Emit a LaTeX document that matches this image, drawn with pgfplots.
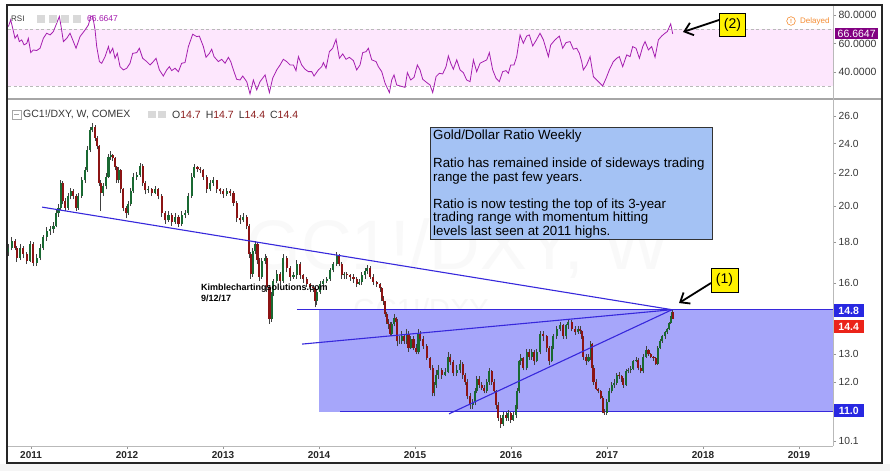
\documentclass[border=0pt]{standalone}
\usepackage{pgfplots}
\pgfplotsset{compat=1.18}
\usepackage{pgfplotstable}
\usepackage{fontspec}
\setmainfont{Liberation Sans}
\usetikzlibrary{arrows.meta}

\definecolor{rsiline}{RGB}{165,30,175}
\definecolor{rsiband}{RGB}{253,231,253}
\definecolor{trend}{RGB}{55,40,220}
\definecolor{rangefill}{RGB}{166,166,250}
\definecolor{boxfill}{RGB}{164,194,244}
\definecolor{upc}{RGB}{25,105,50}
\definecolor{dnc}{RGB}{140,20,20}
\definecolor{tagblue}{RGB}{40,40,225}
\definecolor{tagred}{RGB}{235,35,25}
\definecolor{tagpurple}{RGB}{130,0,130}
\definecolor{axisgray}{RGB}{150,150,150}
\definecolor{labelgray}{RGB}{55,55,55}
\definecolor{ohlc}{RGB}{140,30,30}
\definecolor{orangeD}{RGB}{245,140,50}

\pgfplotstableread{
t o h l c
2010.764 17.5 17.9 17.3 17.7
2010.799 17.7 18.3 17.6 18.1
2010.833 18.1 18.2 17.6 17.7
2010.851 17.7 17.8 17.0 17.2
2010.885 17.2 17.9 17.1 17.7
2010.920 17.7 17.8 17.2 17.4
2010.955 17.4 17.5 16.9 17.06
2010.990 17.06 18.1 17.0 17.9
2011.024 17.9 18.0 16.8 16.97
2011.059 16.97 17.4 16.8 17.2
2011.094 17.2 17.9 17.1 17.7
2011.128 17.7 18.4 17.6 18.27
2011.163 18.27 18.8 18.1 18.63
2011.198 18.63 18.9 18.4 18.7
2011.233 18.7 19.1 18.5 18.9
2011.260 18.9 19.8 18.8 19.6
2011.285 19.6 20.1 19.4 19.9
2011.309 19.9 21.6 19.8 21.4
2011.330 21.4 21.5 20.1 20.3
2011.354 20.3 20.5 19.7 19.9
2011.389 19.9 20.8 19.8 20.6
2011.413 20.6 21.1 20.4 20.9
2011.441 20.9 21.0 20.4 20.6
2011.469 20.6 20.7 19.7 19.9
2011.493 19.9 20.8 19.8 20.6
2011.528 20.6 21.8 20.5 21.56
2011.563 21.56 22.4 21.4 22.2
2011.587 22.2 23.8 22.1 23.54
2011.615 23.54 25.2 23.4 24.96
2011.639 24.96 25.5 24.8 25.2
2011.667 25.2 25.3 24.2 24.4
2011.691 24.4 24.5 23.6 23.8
2011.712 23.8 23.9 21.2 21.4
2011.726 21.4 21.6 19.75 20.8
2011.753 20.8 21.4 20.6 21.2
2011.781 21.2 22.0 21.0 21.8
2011.806 21.8 23.3 21.7 23.1
2011.830 23.1 23.5 22.9 23.2
2011.851 23.2 23.3 22.8 23.0
2011.875 23.0 23.1 22.2 22.4
2011.892 22.4 22.5 21.4 21.56
2011.910 21.56 22.4 21.4 22.2
2011.934 22.2 22.3 20.8 21.0
2011.962 21.0 21.1 19.7 19.9
2011.990 19.9 20.0 19.3 19.6
2012.014 19.6 20.3 19.5 20.1
2012.038 20.1 21.1 20.0 20.9
2012.066 20.9 22.0 20.8 21.8
2012.101 21.8 22.1 21.6 21.9
2012.135 21.9 22.7 21.8 22.5
2012.163 22.5 22.6 21.2 21.4
2012.188 21.4 21.5 20.7 20.94
2012.222 20.94 21.2 20.8 21.0
2012.257 21.0 21.1 20.6 20.8
2012.292 20.8 21.2 20.7 21.0
2012.326 21.0 21.1 20.4 20.6
2012.361 20.6 20.7 19.4 19.6
2012.396 19.6 19.7 19.0 19.2
2012.431 19.2 19.7 19.1 19.5
2012.465 19.5 19.6 18.9 19.1
2012.500 19.1 19.6 19.0 19.4
2012.535 19.4 19.5 18.8 19.0
2012.569 19.0 19.7 18.9 19.5
2012.604 19.5 19.8 19.3 19.6
2012.639 19.6 20.8 19.5 20.6
2012.674 20.6 22.0 20.5 21.8
2012.698 21.8 22.6 21.7 22.4
2012.733 22.4 22.5 22.1 22.3
2012.760 22.3 22.4 22.0 22.2
2012.795 22.2 22.3 21.6 21.8
2012.830 21.8 21.9 20.8 21.0
2012.865 21.0 21.6 20.9 21.4
2012.899 21.4 21.8 21.2 21.56
2012.934 21.56 21.6 20.8 21.0
2012.969 21.0 21.1 20.7 20.9
2013.003 20.9 21.0 20.5 20.7
2013.038 20.7 21.1 20.6 20.9
2013.073 20.9 21.0 20.6 20.8
2013.108 20.8 20.9 20.0 20.2
2013.142 20.2 20.3 19.1 19.3
2013.177 19.3 19.5 19.0 19.2
2013.212 19.2 19.6 19.1 19.4
2013.247 19.4 19.5 18.7 18.9
2013.274 18.9 19.0 17.2 17.4
2013.288 17.4 17.5 16.2 16.4
2013.309 16.4 17.7 16.3 17.57
2013.333 17.57 18.1 17.4 17.9
2013.358 17.9 18.0 16.9 17.1
2013.378 17.1 17.2 16.1 16.3
2013.403 16.3 17.2 16.2 17.06
2013.438 17.06 17.4 16.9 17.2
2013.455 17.2 17.3 15.6 15.8
2013.483 15.8 15.9 14.2 14.4
2013.507 14.4 15.6 14.3 15.5
2013.524 15.5 16.2 15.4 16.1
2013.559 16.1 16.6 16.0 16.4
2013.594 16.4 16.5 15.9 16.1
2013.628 16.1 17.4 16.0 17.2
2013.663 17.2 17.3 16.5 16.7
2013.698 16.7 16.8 16.1 16.3
2013.733 16.3 16.5 16.2 16.35
2013.767 16.35 17.1 16.2 16.9
2013.802 16.9 17.0 16.2 16.35
2013.837 16.35 16.4 16.0 16.2
2013.872 16.2 16.3 15.8 15.97
2013.906 15.97 16.0 15.6 15.8
2013.941 15.8 15.9 15.6 15.75
2013.958 15.75 15.8 14.9 15.2
2013.976 15.2 15.7 15.0 15.6
2014.010 15.6 16.1 15.5 15.97
2014.045 15.97 16.2 15.8 16.1
2014.080 16.1 16.3 16.0 16.2
2014.115 16.2 16.7 16.1 16.6
2014.149 16.6 17.0 16.5 16.9
2014.184 16.9 17.5 16.8 17.3
2014.212 17.3 17.4 16.8 16.9
2014.236 16.9 17.0 16.2 16.35
2014.260 16.35 16.5 16.2 16.4
2014.288 16.4 16.5 16.2 16.35
2014.323 16.35 16.4 16.1 16.3
2014.358 16.3 16.4 16.0 16.2
2014.392 16.2 16.3 15.8 15.97
2014.420 15.97 16.2 15.9 16.05
2014.444 16.05 16.5 15.9 16.35
2014.479 16.35 16.7 16.2 16.57
2014.503 16.57 16.85 16.4 16.7
2014.531 16.7 16.8 16.2 16.3
2014.566 16.3 16.4 15.9 16.05
2014.601 16.05 16.1 15.8 15.97
2014.635 15.97 16.0 15.6 15.75
2014.653 15.75 15.8 15.2 15.3
2014.670 15.3 15.4 15.0 15.18
2014.688 15.18 15.2 14.5 14.6
2014.705 14.6 14.7 14.2 14.3
2014.722 14.3 14.4 14.0 14.2
2014.740 14.2 14.3 13.7 13.8
2014.757 13.8 14.3 13.7 14.2
2014.781 14.2 14.6 14.1 14.45
2014.802 14.45 14.5 14.2 14.3
2014.816 14.3 14.4 13.3 13.5
2014.837 13.5 13.7 13.4 13.5
2014.861 13.5 13.9 13.4 13.7
2014.885 13.7 13.8 13.4 13.5
2014.913 13.5 14.0 13.4 13.8
2014.931 13.8 13.9 13.1 13.25
2014.955 13.25 13.7 13.2 13.6
2014.983 13.6 13.7 13.15 13.25
2015.010 13.25 13.4 13.0 13.1
2015.035 13.1 14.0 13.0 13.8
2015.052 13.8 13.9 13.5 13.6
2015.087 13.6 13.7 13.2 13.3
2015.122 13.3 13.4 12.8 12.87
2015.156 12.87 12.9 12.4 12.5
2015.184 12.5 12.6 11.5 11.6
2015.198 11.6 12.0 11.5 11.9
2015.219 11.9 12.4 11.8 12.25
2015.243 12.25 12.6 12.1 12.4
2015.278 12.4 12.5 12.1 12.25
2015.313 12.25 12.5 12.2 12.35
2015.347 12.35 13.1 12.3 12.9
2015.365 12.9 13.0 12.6 12.7
2015.399 12.7 12.8 12.2 12.3
2015.434 12.3 12.6 12.2 12.4
2015.469 12.4 12.8 12.3 12.65
2015.497 12.65 12.7 12.1 12.25
2015.521 12.25 12.3 11.9 12.0
2015.545 12.0 12.1 11.4 11.5
2015.573 11.5 11.6 11.1 11.2
2015.601 11.2 11.4 11.1 11.3
2015.625 11.3 11.8 11.2 11.67
2015.642 11.67 12.2 11.6 12.1
2015.670 12.1 12.2 11.8 11.9
2015.694 11.9 12.0 11.7 11.8
2015.719 11.8 11.9 11.6 11.67
2015.747 11.67 12.1 11.6 12.0
2015.774 12.0 12.5 11.9 12.37
2015.799 12.37 12.4 11.9 12.0
2015.823 12.0 12.1 11.6 11.67
2015.844 11.67 11.7 11.1 11.2
2015.868 11.2 11.3 10.7 10.8
2015.892 10.8 10.9 10.5 10.6
2015.920 10.6 11.0 10.55 10.9
2015.948 10.9 11.0 10.7 10.8
2015.972 10.8 11.05 10.7 10.95
2015.997 10.95 11.0 10.65 10.75
2016.024 10.75 11.0 10.7 10.9
2016.052 10.9 11.3 10.8 11.2
2016.066 11.2 11.8 11.1 11.67
2016.087 11.67 12.8 11.6 12.74
2016.101 12.74 13.0 12.6 12.87
2016.128 12.87 12.9 12.4 12.5
2016.163 12.5 13.2 12.4 13.1
2016.191 13.1 13.2 12.8 12.9
2016.215 12.9 13.2 12.8 13.1
2016.240 13.1 13.15 12.6 12.74
2016.267 12.74 13.2 12.7 13.1
2016.302 13.1 13.9 13.0 13.8
2016.337 13.8 13.9 13.5 13.7
2016.372 13.7 13.75 13.1 13.25
2016.399 13.25 13.3 12.6 12.74
2016.424 12.74 13.3 12.7 13.25
2016.441 13.25 13.8 13.2 13.7
2016.476 13.7 14.1 13.6 14.0
2016.510 14.0 14.3 13.9 14.15
2016.545 14.15 14.2 13.6 13.7
2016.573 13.7 14.2 13.6 14.15
2016.597 14.15 14.4 14.0 14.3
2016.632 14.3 14.35 13.9 14.0
2016.667 14.0 14.1 13.75 13.85
2016.701 13.85 14.1 13.8 14.0
2016.719 14.0 14.1 13.8 13.9
2016.736 13.9 13.95 13.6 13.68
2016.753 13.68 13.7 12.8 12.9
2016.781 12.9 13.0 12.6 12.74
2016.806 12.74 13.0 12.7 12.9
2016.830 12.9 13.5 12.8 13.4
2016.844 13.4 13.45 12.4 12.5
2016.858 12.5 12.6 11.9 12.0
2016.885 12.0 12.1 11.7 11.75
2016.910 11.75 11.8 11.6 11.67
2016.934 11.67 11.7 11.4 11.45
2016.955 11.45 11.5 10.95 11.0
2016.972 11.0 11.1 10.9 10.95
2016.997 10.95 11.4 10.9 11.33
2017.024 11.33 11.8 11.3 11.67
2017.049 11.67 12.0 11.6 11.9
2017.076 11.9 12.1 11.8 11.95
2017.101 11.95 12.3 11.9 12.25
2017.128 12.25 12.35 12.1 12.2
2017.153 12.2 12.25 12.0 12.1
2017.170 12.1 12.15 11.8 11.9
2017.198 11.9 12.45 11.85 12.37
2017.222 12.37 12.5 12.3 12.4
2017.247 12.4 12.55 12.3 12.45
2017.274 12.45 12.8 12.4 12.74
2017.302 12.74 12.9 12.7 12.8
2017.326 12.8 12.85 12.4 12.5
2017.351 12.5 12.6 12.3 12.37
2017.378 12.37 13.0 12.3 12.9
2017.406 12.9 13.3 12.85 13.15
2017.431 13.15 13.2 12.95 13.0
2017.455 13.0 13.05 12.85 12.9
2017.483 12.9 12.95 12.75 12.85
2017.507 12.85 12.9 12.6 12.65
2017.528 12.65 13.3 12.6 13.25
2017.552 13.25 13.6 13.2 13.5
2017.576 13.5 13.75 13.45 13.7
2017.604 13.7 13.9 13.6 13.85
2017.628 13.85 14.05 13.8 14.0
2017.649 14.0 14.3 13.95 14.25
2017.663 14.25 14.55 14.2 14.5
2017.677 14.5 14.8 14.45 14.7
2017.691 14.7 14.7 14.4 14.4
}\candles

\pgfplotstableread{
t v
2010.764 71.9
2010.788 76.6
2010.809 70.7
2010.833 63.6
2010.858 66.0
2010.878 61.3
2010.903 62.5
2010.927 59.0
2010.955 60.0
2010.972 63.6
2010.997 53.5
2011.024 55.4
2011.059 55.0
2011.094 56.6
2011.128 63.6
2011.163 67.2
2011.198 66.0
2011.233 68.4
2011.267 74.2
2011.295 79.0
2011.313 71.9
2011.337 61.3
2011.372 63.6
2011.406 67.2
2011.441 61.3
2011.469 56.6
2011.510 64.8
2011.563 69.5
2011.597 73.0
2011.622 79.0
2011.642 79.4
2011.667 69.5
2011.684 57.8
2011.712 47.2
2011.736 46.0
2011.771 50.7
2011.806 57.8
2011.823 53.0
2011.851 56.6
2011.875 49.5
2011.899 53.0
2011.927 43.6
2011.962 41.3
2011.997 42.5
2012.031 46.0
2012.059 53.0
2012.101 53.5
2012.128 56.6
2012.163 49.5
2012.205 47.2
2012.240 44.8
2012.274 47.2
2012.302 49.5
2012.337 41.3
2012.378 37.0
2012.413 41.3
2012.441 43.6
2012.465 40.8
2012.500 42.5
2012.535 40.0
2012.569 46.0
2012.604 46.5
2012.639 57.8
2012.684 66.5
2012.726 64.8
2012.753 65.2
2012.795 57.8
2012.823 50.2
2012.858 53.0
2012.882 55.9
2012.906 50.7
2012.951 47.2
2012.986 48.8
2013.021 46.0
2013.056 50.2
2013.080 47.2
2013.108 41.3
2013.142 34.7
2013.177 34.2
2013.205 37.0
2013.247 33.0
2013.281 24.4
2013.316 34.2
2013.351 27.2
2013.385 33.0
2013.438 37.8
2013.483 25.3
2013.517 35.4
2013.559 41.3
2013.594 44.8
2013.628 48.8
2013.663 47.2
2013.698 44.8
2013.733 44.8
2013.760 40.8
2013.785 50.7
2013.819 44.8
2013.854 41.8
2013.889 40.1
2013.924 40.1
2013.948 37.0
2013.993 41.3
2014.028 43.6
2014.045 46.5
2014.073 42.5
2014.108 54.2
2014.142 56.6
2014.177 62.9
2014.212 49.5
2014.247 52.6
2014.281 48.8
2014.316 50.2
2014.358 47.9
2014.392 41.3
2014.427 44.8
2014.455 53.5
2014.490 54.2
2014.514 56.6
2014.549 48.4
2014.594 47.2
2014.618 43.6
2014.653 40.1
2014.688 31.9
2014.733 25.3
2014.757 34.2
2014.781 37.8
2014.809 30.7
2014.844 30.0
2014.896 29.0
2014.920 39.4
2014.955 34.2
2014.990 36.1
2015.024 44.8
2015.052 41.3
2015.080 34.7
2015.122 32.4
2015.156 30.7
2015.184 25.3
2015.219 36.6
2015.253 38.9
2015.288 38.5
2015.323 43.6
2015.347 51.2
2015.372 46.0
2015.399 41.8
2015.434 48.4
2015.469 41.3
2015.503 39.4
2015.538 34.2
2015.573 33.0
2015.608 48.4
2015.642 40.1
2015.677 46.0
2015.712 47.2
2015.747 48.4
2015.774 53.5
2015.809 41.3
2015.844 35.4
2015.878 33.0
2015.913 40.1
2015.948 40.8
2015.972 38.9
2015.997 44.8
2016.031 44.8
2016.059 50.7
2016.094 66.0
2016.128 60.1
2016.163 65.2
2016.191 66.0
2016.226 58.2
2016.260 62.0
2016.302 67.2
2016.337 62.5
2016.389 50.7
2016.413 58.9
2016.458 62.5
2016.503 65.2
2016.538 56.6
2016.573 60.6
2016.615 61.3
2016.649 55.9
2016.684 56.6
2016.712 53.0
2016.736 47.2
2016.753 41.3
2016.788 44.8
2016.823 50.7
2016.858 36.6
2016.892 34.2
2016.927 31.9
2016.955 30.0
2016.990 35.4
2017.024 41.3
2017.066 47.2
2017.101 49.5
2017.128 50.7
2017.163 43.6
2017.205 51.9
2017.240 50.7
2017.267 57.8
2017.302 56.6
2017.337 49.5
2017.372 57.8
2017.396 61.3
2017.431 55.4
2017.465 57.8
2017.500 50.2
2017.535 62.5
2017.569 65.2
2017.604 67.2
2017.628 68.4
2017.663 73.8
2017.684 66.7
}\rsi

\begin{document}
\begin{tikzpicture}
\fill[white] (0pt,0pt) rectangle (890pt,-471pt);
\fill[gray!8] (0pt,-464pt) rectangle (890pt,-471pt);

% watermark
\begin{scope}[x=1pt,y=-1pt]
\node[text=gray!5, font=\fontsize{70}{70}\selectfont] at (458,249) {GC1!/DXY, W};
\node[text=gray!6, font=\fontsize{29}{29}\selectfont] at (421,309) {GC1!/DXY};
\end{scope}

% ---------- RSI panel ----------
\begin{axis}[
  at={(8pt,-97pt)}, anchor=south west, scale only axis,
  width=825pt, height=90pt,
  xmin=2010.76, xmax=2019.354, ymin=22.2, ymax=85.7,
  axis line style={draw=none},
  xtick=\empty,
  ytick={40,60,80},
  yticklabels={40.0000,60.0000,80.0000},
  ytick pos=right, yticklabel pos=right,
  tick align=outside, major tick length=3pt,
  tick style={axisgray, line width=0.5pt},
  /pgf/number format/assume math mode=true,
  yticklabel style={font=\fontsize{10.5}{10.5}\selectfont, text=labelgray, xshift=-1pt},
]
\fill[rsiband] (axis cs:2010.76,30) rectangle (axis cs:2019.354,70);
\draw[gray!55, dash pattern=on 3pt off 2.5pt, line width=0.6pt] (axis cs:2010.76,70) -- (axis cs:2019.354,70);
\draw[gray!55, dash pattern=on 3pt off 2.5pt, line width=0.6pt] (axis cs:2010.76,30) -- (axis cs:2019.354,30);
\addplot[rsiline, line width=0.8pt] table[x=t,y=v]{\rsi};
\end{axis}

% ---------- Main panel ----------
\begin{axis}[
  at={(8pt,-446pt)}, anchor=south west, scale only axis,
  width=825pt, height=345pt,
  ymode=log,
  xmin=2010.76, xmax=2019.354, ymin=9.955, ymax=27.16,
  axis line style={draw=none},
  xtick={2011,2012,2013,2014,2015,2016,2017,2018,2019},
  xticklabels={2011,2012,2013,2014,2015,2016,2017,2018,2019},
  xtick pos=bottom,
  ytick={10.1,12,13,16,18,20,22,24,26},
  yticklabels={10.1,12.0,13.0,16.0,18.0,20.0,22.0,24.0,26.0},
  ytick pos=right, yticklabel pos=right,
  yminorticks=false,
  tick align=outside, major tick length=3pt,
  tick style={axisgray, line width=0.5pt},
  /pgf/number format/assume math mode=true,
  yticklabel style={font=\fontsize{10.3}{10.3}\selectfont, text=labelgray, xshift=-1pt},
  xticklabel style={font=\bfseries\fontsize{10}{10}\selectfont, text=black!85, yshift=1pt},
]
% trading range
\fill[rangefill] (axis cs:2014.0,11.0) rectangle (axis cs:2019.354,14.8);
\draw[trend, line width=1pt] (axis cs:2013.77,14.8) -- (axis cs:2019.354,14.8);
\draw[trend, line width=1pt] (axis cs:2014.22,11.0) -- (axis cs:2019.354,11.0);

% candles: wicks
\addplot[draw=none, mark=none, forget plot,
  error bars/.cd, y dir=plus, y explicit, error mark=none,
  error bar style={line width=0.55pt, draw=black!75, solid}]
  table[x=t, y=l, y error expr=\thisrow{h}-\thisrow{l}]{\candles};
% up bodies
\addplot[draw=none, mark=none, forget plot,
  restrict expr to domain={\thisrow{c}-\thisrow{o}}{0:100},
  error bars/.cd, y dir=plus, y explicit, error mark=none,
  error bar style={line width=2.2pt, draw=upc, solid}]
  table[x=t, y=o, y error expr=\thisrow{c}-\thisrow{o}]{\candles};
% down bodies
\addplot[draw=none, mark=none, forget plot,
  restrict expr to domain={\thisrow{c}-\thisrow{o}}{-100:-0.0001},
  error bars/.cd, y dir=plus, y explicit, error mark=none,
  error bar style={line width=2.2pt, draw=dnc, solid}]
  table[x=t, y=c, y error expr=\thisrow{o}-\thisrow{c}]{\candles};

% trend lines
\draw[trend, line width=1.1pt] (axis cs:2011.115,19.95) -- (axis cs:2017.677,14.8);
\draw[trend, line width=1.1pt] (axis cs:2013.823,13.39) -- (axis cs:2017.677,14.8);
\draw[trend, line width=1.1pt] (axis cs:2015.354,10.93) -- (axis cs:2017.677,14.8);
\end{axis}

% ---------- annotations in pixel coordinates ----------
\begin{scope}[x=1pt,y=-1pt]
% frames
\draw[gray!70, line width=1.4pt] (7,99) -- (882,99);
\draw[gray!55, line width=0.6pt] (833,5) -- (833,446);
\draw[gray!55, line width=0.6pt] (7,446) -- (833,446);
\draw[black!85, line width=1.6pt] (7,5) rectangle (882,463);

% RSI header
\node[anchor=west, text=labelgray, font=\fontsize{8}{8}\selectfont, inner sep=0] at (11,19) {RSI};
\foreach \xx in {37,49,61,73} {\fill[gray!30] (\xx,15) rectangle ++(7.5,7.5);}
\node[anchor=west, text=rsiline, font=\fontsize{8.5}{8.5}\selectfont, inner sep=0] at (87,19) {66.6647};

% Delayed
\draw[orangeD, line width=0.6pt] (791,21) circle (4.3pt);
\node[text=orangeD, font=\bfseries\fontsize{6}{6}\selectfont, inner sep=0] at (791,21) {!};
\node[anchor=west, text=orangeD, font=\fontsize{8}{8}\selectfont, inner sep=0] at (800,21) {Delayed};

% RSI value tag
\node[fill=tagpurple, text=white, inner xsep=2.5pt, inner ysep=1.5pt, anchor=west, font=\fontsize{10.5}{10.5}\selectfont] at (835,33.5) {66.6647};

% main header
\draw[gray!70, line width=0.6pt] (12,110) rectangle (21,119);
\draw[gray!70, line width=0.6pt] (14,114.5) -- (19,114.5);
\node[anchor=west, text=labelgray, font=\fontsize{10.5}{10.5}\selectfont, inner sep=0] at (23,114.5) {GC1!/DXY, W, COMEX};
\fill[gray!30] (148,110.5) rectangle ++(7.5,7.5);
\fill[gray!30] (158,110.5) rectangle ++(7.5,7.5);
\node[anchor=west, font=\fontsize{10.5}{10.5}\selectfont, inner sep=0] at (172,114.5)
  {\textcolor{labelgray}{O}\textcolor{ohlc}{14.7}\hspace{5pt}\textcolor{labelgray}{H}\textcolor{ohlc}{14.7}\hspace{5pt}\textcolor{labelgray}{L}\textcolor{ohlc}{14.4}\hspace{5pt}\textcolor{labelgray}{C}\textcolor{ohlc}{14.4}};

% price tags
\node[fill=tagblue, text=white, minimum width=30pt, minimum height=13pt, inner sep=0, anchor=west, font=\bfseries\fontsize{10.5}{10.5}\selectfont] at (833.5,310.5) {14.8};
\node[fill=tagred, text=white, minimum width=30pt, minimum height=13pt, inner sep=0, anchor=west, font=\bfseries\fontsize{10.5}{10.5}\selectfont] at (833.5,326.5) {14.4};
\node[fill=tagblue, text=white, minimum width=30pt, minimum height=13pt, inner sep=0, anchor=west, font=\bfseries\fontsize{10.5}{10.5}\selectfont] at (833.5,410.5) {11.0};

% text box
\draw[fill=boxfill, draw=black!80, line width=0.7pt] (430,127) rectangle (712,239);
\begin{scope}[every node/.style={anchor=base west, inner sep=0, font=\fontsize{13.3}{13.3}\selectfont}]
\node at (433,139.5) {Gold/Dollar Ratio Weekly};
\node at (433,167) {Ratio has remained inside of sideways trading};
\node at (433,181) {range the past few years.};
\node at (433,208) {Ratio is now testing the top of its 3-year};
\node at (433,221.5) {trading range with momentum hitting};
\node at (433,235) {levels last seen at 2011 highs.};
\end{scope}

% Kimble
\node[anchor=west, inner sep=0, font=\bfseries\fontsize{9}{9}\selectfont] at (201,288) {Kimblechartingsolutions.com};
\node[anchor=west, inner sep=0, font=\bfseries\fontsize{9}{9}\selectfont] at (201,298.5) {9/12/17};

% (1) callout
\draw[black, line width=1.8pt, -{Straight Barb[length=8pt,width=13pt]}] (711,283) -- (679,303);
\node[fill=yellow, draw=black, line width=0.8pt, minimum width=27pt, minimum height=24pt, inner sep=0, font=\fontsize{14}{14}\selectfont] at (724.5,280) {(1)};

% (2) callout
\draw[black, line width=1.8pt, -{Straight Barb[length=8pt,width=13pt]}] (719,20) -- (683,32);
\node[fill=yellow, draw=black, line width=0.8pt, minimum width=26pt, minimum height=23pt, inner sep=0, font=\fontsize{14}{14}\selectfont] at (732.5,25) {(2)};
\end{scope}
\end{tikzpicture}
\end{document}
